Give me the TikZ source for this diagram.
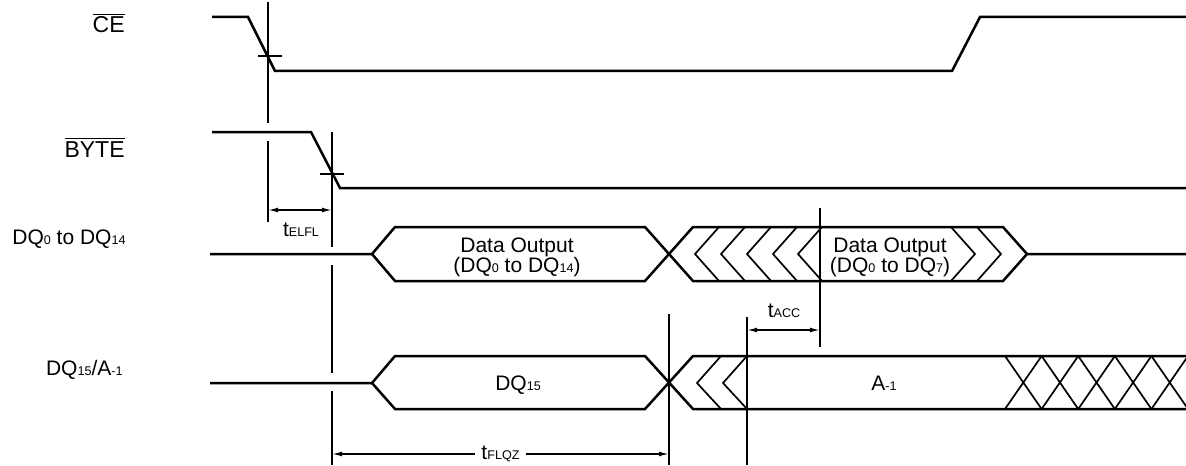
\documentclass[tikz,border=0pt]{standalone}
\usepackage{fontspec}
\setmainfont{Liberation Sans}
\usetikzlibrary{arrows.meta}
\newcommand{\lowsub}[1]{{\fontsize{6.3}{6}\selectfont #1}}
\tikzset{
  wave/.style={line width=1.25pt,line join=miter},
  thinwave/.style={line width=0.85pt},
  guide/.style={line width=0.9pt},
  dim/.style={line width=0.7pt,<->,>={Latex[length=5pt,width=2.4pt]}},
  lbl/.style={font=\fontsize{10.5}{10}\selectfont,inner sep=0pt},
  biglbl/.style={font=\fontsize{11.5}{10}\selectfont,inner sep=0pt}
}
\begin{document}
\begin{tikzpicture}[x=0.5pt,y=-0.5pt]
  \useasboundingbox (0,0) rectangle (1186,465);
  % signal names
  \node[biglbl,anchor=base east] (ce) at (125,33) {$\overline{\mbox{CE}}$};
  \node[biglbl,anchor=base east] (byte) at (125,157) {$\overline{\mbox{BYTE}}$};
  \node[lbl,anchor=base east] (dqlow) at (126,244) {DQ\lowsub{0} to DQ\lowsub{14}};
  \node[lbl,anchor=base east] (dqhigh) at (123,375) {DQ\lowsub{15}/A\lowsub{-1}};
  % CE and BYTE
  \draw[wave] (212,17) -- (248,17) -- (275,71) -- (952,71) -- (980,17) -- (1186,17);
  \draw[wave] (212,132) -- (311,132) -- (340,188) -- (1186,188);
  % DQ0 to DQ14
  \draw[wave] (210,254) -- (372,254) -- (395,227) -- (645,227) -- (693,281) -- (1003,281) -- (1027,254) -- (1186,254);
  \draw[wave] (372,254) -- (395,281) -- (645,281) -- (693,227) -- (1003,227) -- (1027,254);
  \foreach \t in {695,721,747,773,798}
    \draw[thinwave] (\t+24,227) -- (\t,254) -- (\t+24,281);
  \foreach \t in {951,977}
    \draw[thinwave] (\t,227) -- (\t+24,254) -- (\t,281);
  \node[lbl,align=center] (datalow) at (517,257) {Data Output\\(DQ\lowsub{0} to DQ\lowsub{14})};
  \node[lbl,align=center] (datahigh) at (890,257) {Data Output\\(DQ\lowsub{0} to DQ\lowsub{7})};
  % DQ15/A-1
  \draw[wave] (210,383) -- (372,383) -- (395,356) -- (645,356) -- (693,409) -- (1186,409);
  \draw[wave] (372,383) -- (395,409) -- (645,409) -- (693,356) -- (1186,356);
  \foreach \t in {697,723}
    \draw[thinwave] (\t+24,356) -- (\t,383) -- (\t+24,409);
  \begin{scope}
    \clip (0,0) rectangle (1186,465);
    \foreach \k in {0,...,4}
      \draw[thinwave] (1005+36.6*\k,356) -- (1041.6+36.6*\k,409)
                      (1005+36.6*\k,409) -- (1041.6+36.6*\k,356);
  \end{scope}
  \node[lbl,anchor=base] (dqfifteen) at (518,390) {DQ\lowsub{15}};
  \node[lbl,anchor=base] (aminus) at (884,390) {A\lowsub{-1}};
  % timing lines
  \draw[guide] (268,2) -- (268,123);
  \draw[guide] (258,56) -- (282,56);
  \draw[guide] (268,141) -- (268,222);
  \draw[guide] (332,132) -- (332,247);
  \draw[guide] (320,174) -- (344,174);
  \draw[guide] (332,265) -- (332,373);
  \draw[guide] (332,391) -- (332,465);
  \draw[guide] (820,208) -- (820,347);
  \draw[guide] (669,314) -- (669,465);
  \draw[guide] (747,317) -- (747,465);
  % dimensions
  \coordinate (elfla) at (268,210);
  \coordinate (elflb) at (332,210);
  \coordinate (acca) at (747,330);
  \coordinate (accb) at (820,330);
  \coordinate (flqza) at (332,454);
  \coordinate (flqzb) at (669,454);
  \draw[dim] (elfla) -- (elflb);
  \node[lbl,anchor=base] (telfl) at (301,236) {t\lowsub{ELFL}};
  \draw[dim] (acca) -- (accb);
  \node[lbl,anchor=base] (tacc) at (784,317) {t\lowsub{ACC}};
  \draw[dim] (flqza) -- (flqzb) node[lbl,midway,fill=white,inner xsep=3pt,inner ysep=1pt,name=tflqz] {t\lowsub{FLQZ}};
\end{tikzpicture}
\end{document}
